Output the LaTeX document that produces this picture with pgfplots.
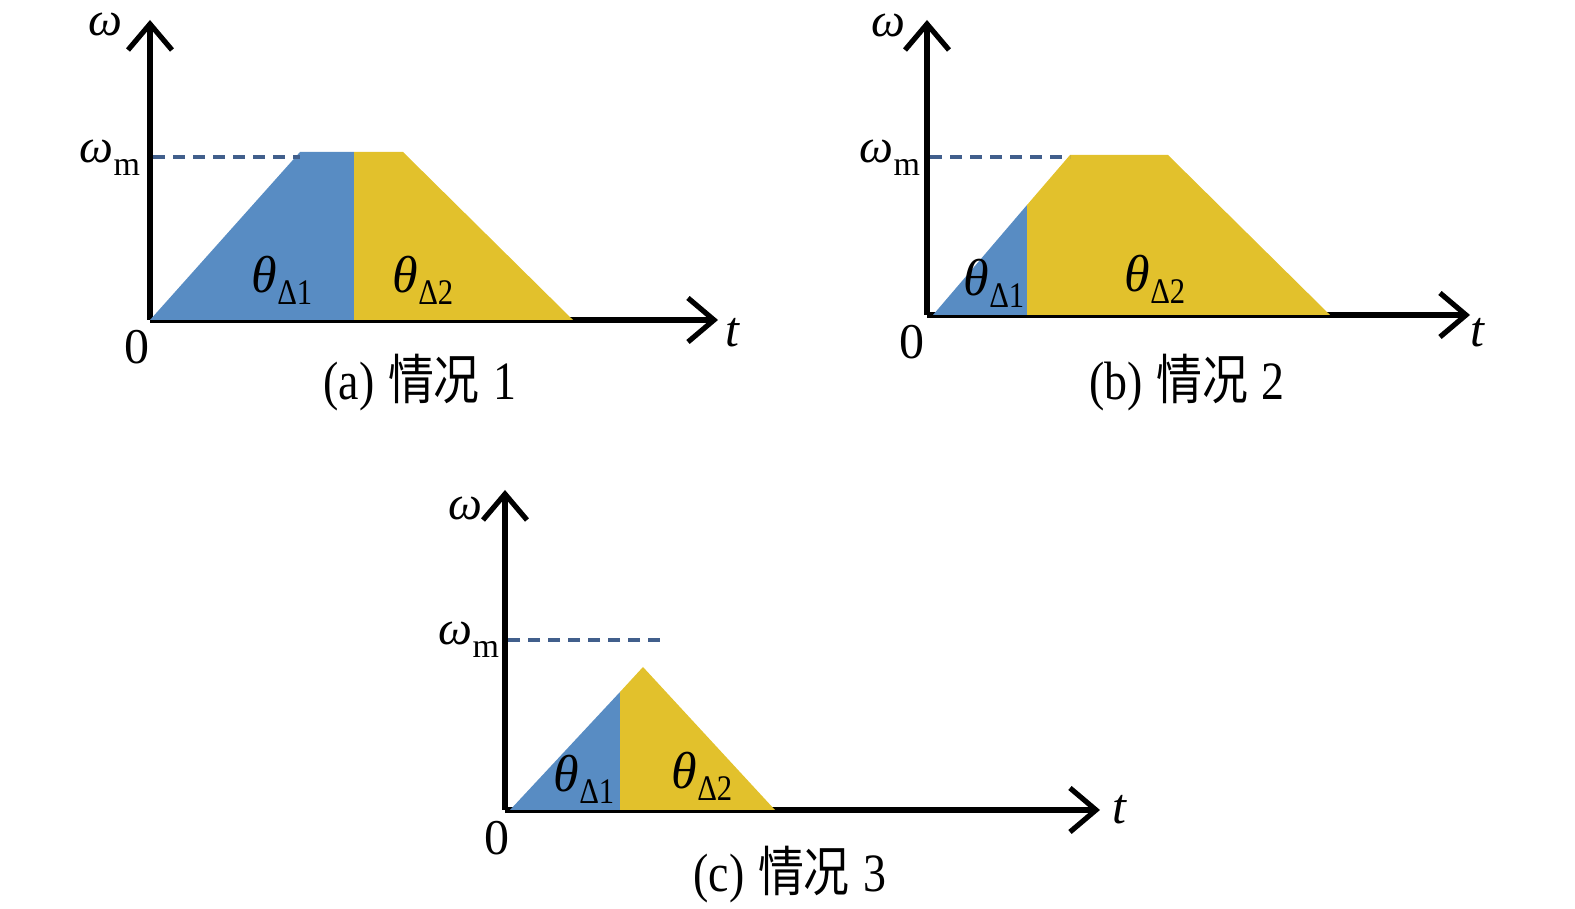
\documentclass[border=0pt,12pt]{standalone}
\usepackage{pgfplots}
\pgfplotsset{compat=1.18}
\usepackage{fontspec}
\setmainfont{Liberation Serif}
\newfontfamily\cjk{Noto Sans CJK SC}
\usetikzlibrary{arrows.meta}
\definecolor{cblue}{RGB}{88,140,195}
\definecolor{cyellow}{RGB}{226,193,44}
\definecolor{cdash}{RGB}{65,95,140}
\newcommand\thl[1]{{\fontsize{13}{15}\selectfont\textit{θ}}\raisebox{-0.55ex}{\scalebox{0.85}[1]{\fontsize{9}{10}\selectfont Δ#1}}}
\newcommand\wm{{\fontsize{12}{14}\selectfont\textit{ω}}\raisebox{-0.6ex}{\fontsize{8.5}{10}\selectfont m}}
\newcommand\capt[3]{\scalebox{0.85}[1]{\fontsize{13.5}{16}\selectfont (#1)\hspace{0.3em}{\cjk #2}\hspace{0.3em}#3}}
\tikzset{
  lab/.style={font=\fontsize{12}{14}\selectfont, inner sep=0pt},
  captxt/.style={font=\fontsize{12.5}{15}\selectfont, inner sep=0pt},
}
\pgfplotsset{
  panel/.style={
    x=0.25pt, y=0.25pt,
    xmin=0, ymin=0,
    axis lines=left,
    xtick=\empty, ytick=\empty,
    enlargelimits=false,
    clip=false,
    anchor=south west,
    axis line style={line width=1.3pt, -{Straight Barb[length=6.5pt,width=11pt,line width=1.3pt]}},
    every outer x axis line/.append style={-{Straight Barb[length=6.5pt,width=11pt,line width=1.3pt]}},
    every outer y axis line/.append style={-{Straight Barb[length=6.5pt,width=11pt,line width=1.3pt]}},
  },
  dashline/.style={cdash, line width=0.9pt, dash pattern=on 3pt off 2pt, no marks},
}
\begin{document}
\begin{tikzpicture}
\path[use as bounding box] (0,0) rectangle (393.75pt,227.25pt);
% (a)
\begin{axis}[panel, at={(37.5pt,147.25pt)}, xmax=568, ymax=300]
\addplot[fill=cblue, draw=none] coordinates {(0,0) (150,168) (204,168) (204,0)} -- cycle;
\addplot[fill=cyellow, draw=none] coordinates {(204,168) (253,168) (423,0) (204,0)} -- cycle;
\addplot[dashline] coordinates {(3,163) (150,163)};
\node[lab] at (axis cs:132,40) {\thl{1}};
\node[lab] at (axis cs:273,40) {\thl{2}};
\node[lab] at (axis cs:-45,295) {\textit{ω}};
\node[lab] at (axis cs:-40,162) {\wm};
\node[captxt] at (axis cs:-13,-27) {0};
\node[captxt] at (axis cs:583,-13) {\textit{t}};
\node[captxt] at (axis cs:270,-63) {\capt{a}{情况}{1}};
\end{axis}
% (b)
\begin{axis}[panel, at={(231.75pt,148.5pt)}, xmax=543, ymax=295]
\addplot[fill=cblue, draw=none] coordinates {(6,0) (100,110) (100,0)} -- cycle;
\addplot[fill=cyellow, draw=none] coordinates {(100,110) (143,160) (241,160) (403,0) (100,0)} -- cycle;
\addplot[dashline] coordinates {(3,158) (143,158)};
\node[lab] at (axis cs:67,32) {\thl{1}};
\node[lab] at (axis cs:228,36) {\thl{2}};
\node[lab] at (axis cs:-39,290) {\textit{ω}};
\node[lab] at (axis cs:-37,157) {\wm};
\node[captxt] at (axis cs:-15,-27) {0};
\node[captxt] at (axis cs:551,-18) {\textit{t}};
\node[captxt] at (axis cs:260,-68) {\capt{b}{情况}{2}};
\end{axis}
% (c)
\begin{axis}[panel, at={(126.25pt,24.75pt)}, xmax=595, ymax=320]
\addplot[fill=cblue, draw=none] coordinates {(5,0) (115,118) (115,0)} -- cycle;
\addplot[fill=cyellow, draw=none] coordinates {(115,118) (138,143) (270,0) (115,0)} -- cycle;
\addplot[dashline] coordinates {(3,170) (160,170)};
\node[lab] at (axis cs:79,31) {\thl{1}};
\node[lab] at (axis cs:197,34) {\thl{2}};
\node[lab] at (axis cs:-40,302) {\textit{ω}};
\node[lab] at (axis cs:-36,170) {\wm};
\node[captxt] at (axis cs:-8,-28) {0};
\node[captxt] at (axis cs:615,0) {\textit{t}};
\node[captxt] at (axis cs:285,-65) {\capt{c}{情况}{3}};
\end{axis}
\end{tikzpicture}
\end{document}
